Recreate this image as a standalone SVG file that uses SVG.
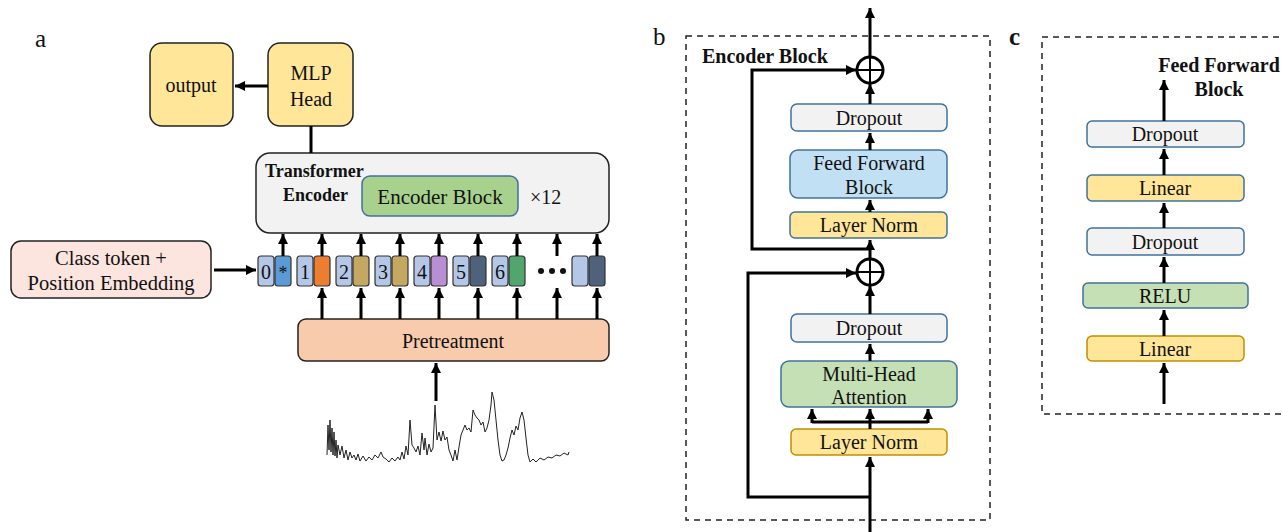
<svg xmlns="http://www.w3.org/2000/svg" width="1284" height="532" viewBox="0 0 1284 532">
<defs>
<marker id="ah" viewBox="0 0 10 10" refX="10" refY="5" markerWidth="10" markerHeight="10" markerUnits="userSpaceOnUse" orient="auto">
<path d="M0,0 L10,5 L0,10 z" fill="#000"/>
</marker>
<style>
text{font-family:"Liberation Serif","Times New Roman",serif;fill:#111;}
.t{font-size:20px;text-anchor:middle;}
.b{font-weight:bold;}
.box{stroke:#222;stroke-width:1.5;}
.bx{stroke:#41719C;stroke-width:1.5;}
.gx{stroke:#BF9000;stroke-width:1.5;}
.tk{stroke:#333;stroke-width:1.2;}
.c{fill:none;stroke:#000;stroke-width:3;}
.a{fill:none;stroke:#000;stroke-width:3;marker-end:url(#ah);}
.dash{fill:none;stroke:#222;stroke-width:1.5;stroke-dasharray:6,5;}
.y{fill:#FFE699;}
.g{fill:#F2F2F2;}
</style>
</defs>

<text x="35" y="47" style="font-size:25px">a</text>
<text x="653" y="45" style="font-size:25px">b</text>
<text x="1009" y="45" class="b" style="font-size:25px">c</text>

<!-- panel a -->
<g id="output"><rect class="box y" x="150" y="43" width="83" height="83" rx="12"/><text class="t" x="191" y="92">output</text></g>
<g id="mlp"><rect class="box y" x="268" y="43" width="85" height="83" rx="12"/><text class="t" x="311" y="80">MLP</text><text class="t" x="311" y="106">Head</text></g>
<g id="transformer">
<rect class="box g" x="256" y="153" width="353" height="80" rx="14"/>
<text class="b" x="265" y="177" style="font-size:18px">Transformer</text>
<text class="b" x="283" y="201" style="font-size:18px">Encoder</text>
<rect x="362" y="176" width="156" height="40" rx="8" fill="#A9D18E" class="bx"/>
<text class="t" x="440" y="204" style="font-size:21px">Encoder Block</text>
<text x="530" y="204" style="font-size:20px">×12</text>
</g>
<g id="classtoken"><rect class="box" fill="#FCE4DF" x="11" y="241" width="200" height="57" rx="10"/><text class="t" x="111" y="265" style="font-size:20.5px">Class token +</text><text class="t" x="111" y="290" style="font-size:20.5px">Position Embedding</text></g>
<g id="pretreatment"><rect class="box" fill="#F8CBAD" x="298" y="319" width="311" height="42" rx="8"/><text class="t" x="453" y="348">Pretreatment</text></g>

<g id="tokens">
<rect class="tk" fill="#B4C7E7" x="258" y="256" width="16" height="30" rx="3"/><rect class="tk" fill="#5B9BD5" x="275" y="256" width="16" height="30" rx="3"/>
<text class="t" x="266" y="279">0</text><text class="t" x="283" y="279" style="font-size:18px">*</text>
<rect class="tk" fill="#B4C7E7" x="297" y="256" width="16" height="30" rx="3"/><rect class="tk" fill="#ED7D31" x="314" y="256" width="16" height="30" rx="3"/><text class="t" x="305" y="279">1</text>
<rect class="tk" fill="#B4C7E7" x="336" y="256" width="16" height="30" rx="3"/><rect class="tk" fill="#C4A862" x="353" y="256" width="16" height="30" rx="3"/><text class="t" x="344" y="279">2</text>
<rect class="tk" fill="#B4C7E7" x="375" y="256" width="16" height="30" rx="3"/><rect class="tk" fill="#C4A862" x="392" y="256" width="16" height="30" rx="3"/><text class="t" x="383" y="279">3</text>
<rect class="tk" fill="#B4C7E7" x="414" y="256" width="16" height="30" rx="3"/><rect class="tk" fill="#B88FD4" x="431" y="256" width="16" height="30" rx="3"/><text class="t" x="422" y="279">4</text>
<rect class="tk" fill="#B4C7E7" x="453" y="256" width="16" height="30" rx="3"/><rect class="tk" fill="#4F627C" x="470" y="256" width="16" height="30" rx="3"/><text class="t" x="461" y="279">5</text>
<rect class="tk" fill="#B4C7E7" x="492" y="256" width="16" height="30" rx="3"/><rect class="tk" fill="#52A56D" x="509" y="256" width="16" height="30" rx="3"/><text class="t" x="500" y="279">6</text>
<circle cx="541" cy="271" r="3" fill="#111"/><circle cx="552" cy="271" r="3" fill="#111"/><circle cx="563" cy="271" r="3" fill="#111"/>
<rect class="tk" fill="#B4C7E7" x="572" y="256" width="16" height="30" rx="3"/><rect class="tk" fill="#4F627C" x="589" y="256" width="16" height="30" rx="3"/>
</g>

<g id="signal">
<polyline fill="none" stroke="#222" stroke-width="1" points="327,455 328,425 329,450 330,420 331,452 332,428 333,455 334,432 335,456 336,440 337,458 338,445 340,455 342,446 344,458 346,450 348,460 350,452 352,458 354,455 356,460 358,454 360,461 363,456 366,461 369,457 372,460 375,455 378,458 381,452 383,457 386,459 389,462 392,458 395,461 398,457 400,460 402,452 404,459 406,446 408,455 410,420 412,445 414,448 416,452 418,446 420,455 422,433 424,450 425,438 427,455 429,444 431,452 433,448 435,405 437,440 439,432 441,441 443,431 445,440 447,437 449,450 451,455 453,461 455,450 457,460 459,447 461,435 463,430 465,425 467,430 469,428 471,432 473,410 475,415 477,418 479,420 481,425 483,422 485,432 487,428 489,420 491,405 492,392 494,400 496,420 498,440 500,455 502,461 504,460 506,455 508,448 510,438 512,430 514,435 516,426 518,430 520,418 522,412 524,420 526,438 528,455 530,462 533,459 536,462 540,458 544,460 548,457 552,458 556,455 560,456 564,453 568,455 569,452"/>
</g>

<!-- panel b -->
<g id="panelb">
<rect class="dash" x="686" y="36" width="304" height="484"/>
<text class="b" x="702" y="63" style="font-size:20px">Encoder Block</text>
<circle cx="870" cy="70" r="13" fill="#fff" stroke="#000" stroke-width="3"/>
<path d="M857,70 H883 M870,57 V83" stroke="#000" stroke-width="2"/>
<circle cx="870" cy="272" r="13" fill="#fff" stroke="#000" stroke-width="3"/>
<path d="M857,272 H883 M870,259 V285" stroke="#000" stroke-width="2"/>
</g>
<g id="b-dropout1"><rect class="bx g" x="791" y="104" width="156" height="27" rx="6"/><text class="t" x="869" y="125">Dropout</text></g>
<g id="b-ffb"><rect class="bx" fill="#C2E0F4" x="790" y="150" width="157" height="48" rx="8"/><text class="t" x="869" y="170">Feed Forward</text><text class="t" x="869" y="194">Block</text></g>
<g id="b-ln1"><rect class="bx y" x="790" y="212" width="157" height="26" rx="5"/><text class="t" x="869" y="232">Layer Norm</text></g>
<g id="b-dropout2"><rect class="bx g" x="791" y="314" width="156" height="28" rx="6"/><text class="t" x="869" y="335">Dropout</text></g>
<g id="b-mha"><rect class="bx" fill="#C5E0B4" x="781" y="361" width="176" height="46" rx="8"/><text class="t" x="869" y="381">Multi-Head</text><text class="t" x="869" y="404">Attention</text></g>
<g id="b-ln2"><rect class="gx y" x="791" y="429" width="156" height="26" rx="5"/><text class="t" x="869" y="449">Layer Norm</text></g>

<!-- panel c -->
<g id="panelc">
<rect class="dash" x="1042" y="37" width="250" height="377"/>
<text class="b" x="1219" y="72" text-anchor="middle" style="font-size:20px">Feed Forward</text>
<text class="b" x="1219" y="96" text-anchor="middle" style="font-size:20px">Block</text>
</g>
<g id="c-dropout1"><rect class="bx g" x="1087" y="121" width="157" height="26" rx="5"/><text class="t" x="1165" y="141">Dropout</text></g>
<g id="c-linear1"><rect class="bx y" x="1087" y="175" width="157" height="26" rx="5"/><text class="t" x="1165" y="195">Linear</text></g>
<g id="c-dropout2"><rect class="bx g" x="1087" y="228" width="157" height="27" rx="5"/><text class="t" x="1165" y="249">Dropout</text></g>
<g id="c-relu"><rect class="bx" fill="#C5E0B4" x="1083" y="283" width="165" height="25" rx="5"/><text class="t" x="1165" y="303">RELU</text></g>
<g id="c-linear2"><rect class="gx y" x="1087" y="336" width="157" height="25" rx="5"/><text class="t" x="1165" y="356">Linear</text></g>

<g id="connectors">
<line class="a" x1="268" y1="86" x2="235" y2="86"/>
<line class="c" x1="311" y1="126" x2="311" y2="153"/>
<line class="a" x1="214" y1="270" x2="256" y2="270"/>
<line class="a" x1="283" y1="256" x2="283" y2="234"/>
<line class="a" x1="322" y1="256" x2="322" y2="234"/>
<line class="a" x1="361" y1="256" x2="361" y2="234"/>
<line class="a" x1="400" y1="256" x2="400" y2="234"/>
<line class="a" x1="439" y1="256" x2="439" y2="234"/>
<line class="a" x1="478" y1="256" x2="478" y2="234"/>
<line class="a" x1="517" y1="256" x2="517" y2="234"/>
<line class="a" x1="557" y1="256" x2="557" y2="234"/>
<line class="a" x1="597" y1="256" x2="597" y2="234"/>
<line class="a" x1="322" y1="319" x2="322" y2="288"/>
<line class="a" x1="361" y1="319" x2="361" y2="288"/>
<line class="a" x1="400" y1="319" x2="400" y2="288"/>
<line class="a" x1="439" y1="319" x2="439" y2="288"/>
<line class="a" x1="478" y1="319" x2="478" y2="288"/>
<line class="a" x1="517" y1="319" x2="517" y2="288"/>
<line class="a" x1="557" y1="319" x2="557" y2="288"/>
<line class="a" x1="597" y1="319" x2="597" y2="288"/>
<line class="a" x1="436" y1="401" x2="436" y2="363"/>

<line class="a" x1="870" y1="56" x2="870" y2="8"/>
<path class="a" d="M870,249 H752 V70 H856"/>
<line class="a" x1="870" y1="104" x2="870" y2="84"/>
<line class="a" x1="870" y1="150" x2="870" y2="133"/>
<line class="a" x1="870" y1="212" x2="870" y2="200"/>
<line class="a" x1="870" y1="259" x2="870" y2="240"/>
<path class="a" d="M870,497 H748 V273 H856"/>
<line class="a" x1="870" y1="314" x2="870" y2="286"/>
<line class="a" x1="870" y1="361" x2="870" y2="344"/>
<line class="a" x1="870" y1="429" x2="870" y2="409"/>
<path class="c" d="M812,422 H928"/>
<line class="a" x1="812" y1="423" x2="812" y2="409"/>
<line class="a" x1="928" y1="423" x2="928" y2="409"/>
<line class="a" x1="870" y1="532" x2="870" y2="457"/>

<line class="a" x1="1164" y1="121" x2="1164" y2="80"/>
<line class="a" x1="1164" y1="175" x2="1164" y2="149"/>
<line class="a" x1="1164" y1="228" x2="1164" y2="203"/>
<line class="a" x1="1164" y1="283" x2="1164" y2="257"/>
<line class="a" x1="1164" y1="336" x2="1164" y2="310"/>
<line class="a" x1="1164" y1="404" x2="1164" y2="363"/>
</g>
</svg>
